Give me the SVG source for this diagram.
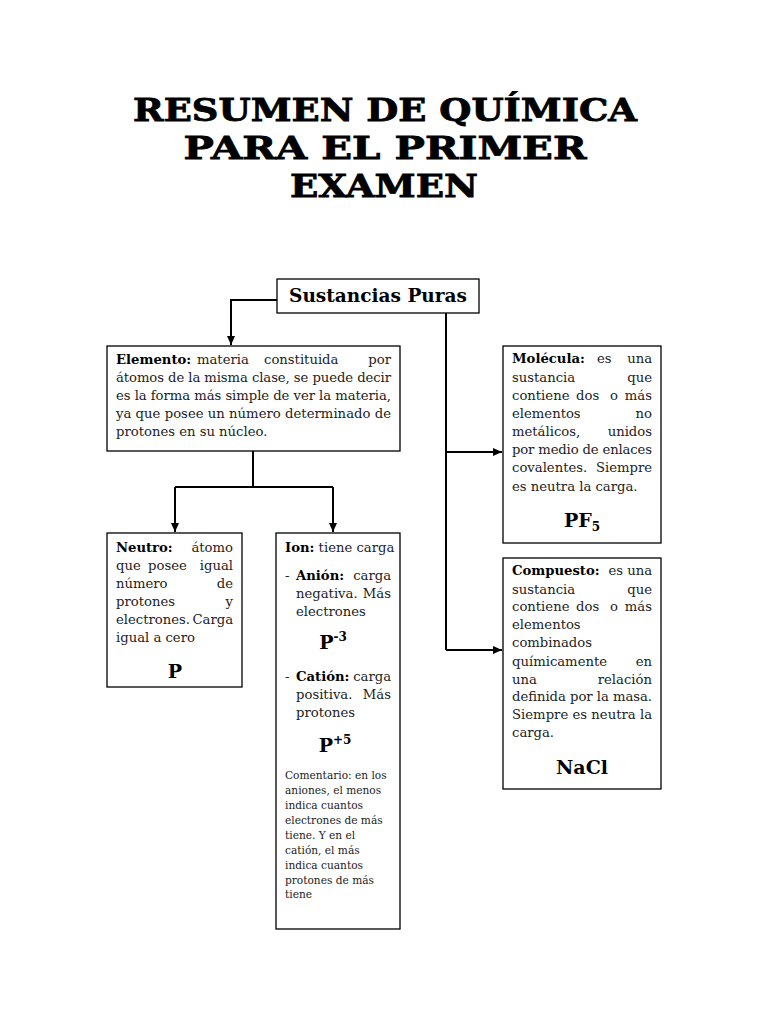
<svg xmlns="http://www.w3.org/2000/svg" width="768" height="1024" viewBox="0 0 768 1024">
<defs>
<style>
.box{fill:#fff;stroke:#000;stroke-width:1.3}
.t{font-family:"DejaVu Serif","Liberation Serif",serif;font-size:13.2px;fill:#222}
.b{font-weight:bold;fill:#000}
.e{text-anchor:end}
.big{font-family:"DejaVu Serif","Liberation Serif",serif;font-size:19px;font-weight:bold;fill:#000;text-anchor:middle}
.sm{font-family:"DejaVu Serif","Liberation Serif",serif;font-size:10.6px;fill:#222}
.title{font-family:"DejaVu Serif","Liberation Serif",serif;font-size:31px;font-weight:900;fill:#000;stroke:#000;stroke-width:0.8;text-anchor:middle}
.c{fill:none;stroke:#000;stroke-width:2}
</style>
<marker id="ah" markerUnits="userSpaceOnUse" markerWidth="10" markerHeight="10" refX="9" refY="5" orient="auto">
<path d="M0,1 L9,5 L0,9 Z" fill="#000"/>
</marker>
</defs>
<rect width="768" height="1024" fill="#fff"/>

<g id="title">
<text class="title" x="385" y="121" textLength="504" lengthAdjust="spacingAndGlyphs">RESUMEN DE QUÍMICA</text>
<text class="title" x="385" y="159" textLength="403" lengthAdjust="spacingAndGlyphs">PARA EL PRIMER</text>
<text class="title" x="384" y="197" textLength="188" lengthAdjust="spacingAndGlyphs">EXAMEN</text>
</g>

<g id="connectors">
<path class="c" d="M277,300 H231 V345" marker-end="url(#ah)"/>
<path class="c" d="M253,451 V487 M175,487 H333"/>
<path class="c" d="M175,487 V532" marker-end="url(#ah)"/>
<path class="c" d="M333,487 V532" marker-end="url(#ah)"/>
<path class="c" d="M446,313 V650"/>
<path class="c" d="M446,452 H502" marker-end="url(#ah)"/>
<path class="c" d="M446,650 H502" marker-end="url(#ah)"/>
</g>

<g id="sustancias">
<rect class="box" x="277" y="279" width="202" height="34"/>
<text x="378" y="302" font-family="DejaVu Serif, Liberation Serif, serif" font-size="18.5" font-weight="bold" text-anchor="middle">Sustancias Puras</text>
</g>

<g id="elemento">
<rect class="box" x="107" y="346" width="293" height="105"/>
<text class="t b" x="116" y="364">Elemento:</text>
<text class="t" x="197" y="364">materia</text>
<text class="t" x="264" y="364">constituida</text>
<text class="t e" x="391" y="364">por</text>
<text class="t" x="116" y="382" textLength="275" lengthAdjust="spacing">átomos de la misma clase, se puede decir</text>
<text class="t" x="116" y="400" textLength="275" lengthAdjust="spacing">es la forma más simple de ver la materia,</text>
<text class="t" x="116" y="418" textLength="275" lengthAdjust="spacing">ya que posee un número determinado de</text>
<text class="t" x="116" y="436">protones en su núcleo.</text>
</g>

<g id="neutro">
<rect class="box" x="107" y="533" width="135" height="154"/>
<text class="t b" x="116" y="552">Neutro:</text>
<text class="t e" x="233" y="552">átomo</text>
<text class="t" x="116" y="570">que</text>
<text class="t" x="148" y="570">posee</text>
<text class="t e" x="233" y="570">igual</text>
<text class="t" x="116" y="588">número</text>
<text class="t e" x="233" y="588">de</text>
<text class="t" x="116" y="606">protones</text>
<text class="t e" x="233" y="606">y</text>
<text class="t" x="116" y="624">electrones.</text>
<text class="t e" x="233" y="624">Carga</text>
<text class="t" x="116" y="642">igual a cero</text>
<text class="big" x="175" y="678">P</text>
</g>

<g id="ion">
<rect class="box" x="276" y="533" width="124" height="396"/>
<text class="t" x="285" y="552"><tspan class="b">Ion:</tspan> tiene carga</text>
<text class="t" x="285" y="580">-</text>
<text class="t b" x="296" y="580">Anión:</text>
<text class="t e" x="391" y="580">carga</text>
<text class="t" x="296" y="598">negativa.</text>
<text class="t e" x="391" y="598">Más</text>
<text class="t" x="296" y="616">electrones</text>
<text class="big" x="333" y="649">P<tspan font-size="12" dy="-8">-3</tspan></text>
<text class="t" x="285" y="681">-</text>
<text class="t b" x="296" y="681">Catión:</text>
<text class="t e" x="391" y="681">carga</text>
<text class="t" x="296" y="699">positiva.</text>
<text class="t e" x="391" y="699">Más</text>
<text class="t" x="296" y="717">protones</text>
<text class="big" x="335" y="752">P<tspan font-size="12" dy="-8">+5</tspan></text>
<text class="sm" x="285" y="779">Comentario: en los</text>
<text class="sm" x="285" y="794">aniones, el menos</text>
<text class="sm" x="285" y="809">indica cuantos</text>
<text class="sm" x="285" y="824">electrones de más</text>
<text class="sm" x="285" y="839">tiene. Y en el</text>
<text class="sm" x="285" y="854">catión, el más</text>
<text class="sm" x="285" y="869">indica cuantos</text>
<text class="sm" x="285" y="884">protones de más</text>
<text class="sm" x="285" y="898">tiene</text>
</g>

<g id="molecula">
<rect class="box" x="503" y="346" width="158" height="197"/>
<text class="t b" x="512" y="363">Molécula:</text>
<text class="t" x="597" y="363">es</text>
<text class="t e" x="652" y="363">una</text>
<text class="t" x="512" y="382">sustancia</text>
<text class="t e" x="652" y="382">que</text>
<text class="t" x="512" y="400">contiene</text>
<text class="t" x="576" y="400">dos</text>
<text class="t" x="610" y="400">o</text>
<text class="t e" x="652" y="400">más</text>
<text class="t" x="512" y="418">elementos</text>
<text class="t e" x="652" y="418">no</text>
<text class="t" x="512" y="436">metálicos,</text>
<text class="t e" x="652" y="436">unidos</text>
<text class="t" x="512" y="454" textLength="140" lengthAdjust="spacing">por medio de enlaces</text>
<text class="t" x="512" y="472">covalentes.</text>
<text class="t e" x="652" y="472">Siempre</text>
<text class="t" x="512" y="491">es neutra la carga.</text>
<text class="big" x="582" y="527">PF<tspan font-size="12" dy="4">5</tspan></text>
</g>

<g id="compuesto">
<rect class="box" x="503" y="558" width="158" height="231"/>
<text class="t b" x="512" y="575">Compuesto:</text>
<text class="t e" x="652" y="575">es una</text>
<text class="t" x="512" y="594">sustancia</text>
<text class="t e" x="652" y="594">que</text>
<text class="t" x="512" y="611">contiene</text>
<text class="t" x="576" y="611">dos</text>
<text class="t" x="610" y="611">o</text>
<text class="t e" x="652" y="611">más</text>
<text class="t" x="512" y="629">elementos</text>
<text class="t" x="512" y="647">combinados</text>
<text class="t" x="512" y="666">químicamente</text>
<text class="t e" x="652" y="666">en</text>
<text class="t" x="512" y="684">una</text>
<text class="t e" x="652" y="684">relación</text>
<text class="t" x="512" y="701" textLength="140" lengthAdjust="spacing">definida por la masa.</text>
<text class="t" x="512" y="719" textLength="140" lengthAdjust="spacing">Siempre es neutra la</text>
<text class="t" x="512" y="737">carga.</text>
<text class="big" x="582" y="774">NaCl</text>
</g>
</svg>
